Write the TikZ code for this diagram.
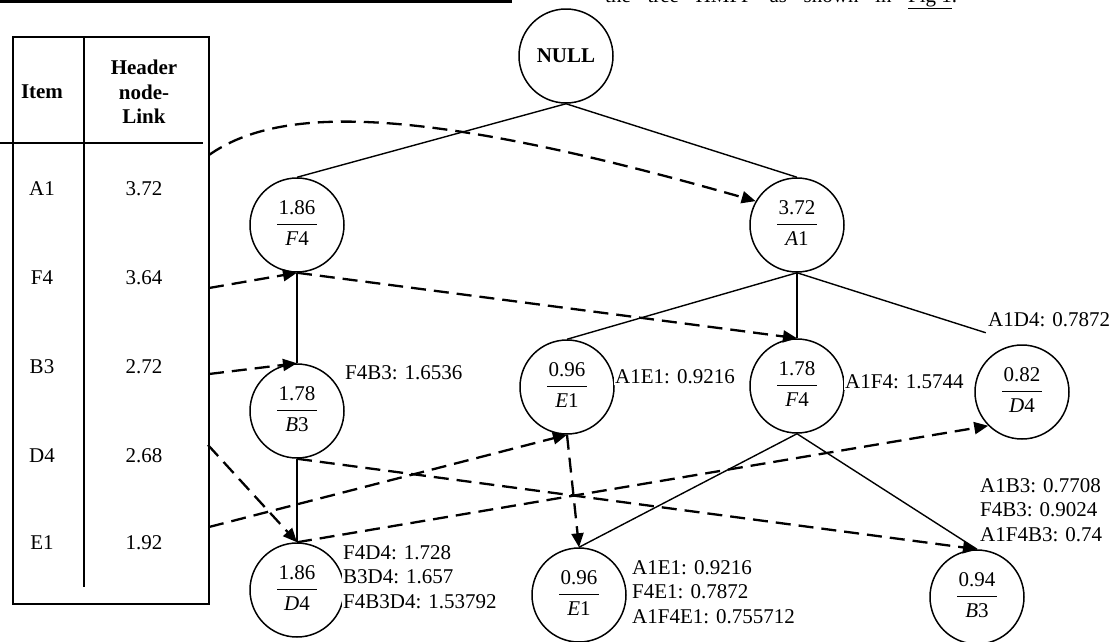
\documentclass[tikz,border=0pt]{standalone}
\usepackage{fontspec}
\setmainfont{Liberation Serif}
\usetikzlibrary{arrows.meta}
\setlength{\arrayrulewidth}{1.4pt}
\newcommand{\nodefrac}[2]{\raisebox{3pt}{\begin{tabular}{@{\hspace{1.5pt}}c@{\hspace{1.5pt}}}\rule{0pt}{16pt}#1\\[2pt]\hline\rule{0pt}{20pt}#2\end{tabular}}}
\begin{document}
\begin{tikzpicture}[x=1pt,y=-1pt,
  every node/.style={font=\fontsize{21}{24.5}\selectfont},
  circ/.style={circle,draw,line width=1.5pt,minimum size=94pt,inner sep=0pt},
  tree/.style={line width=1.4pt},
  link/.style={line width=2.3pt,dash pattern=on 15pt off 8pt,-{Triangle[length=14pt,width=12pt]}},
  lbl/.style={anchor=west,fill=white,inner sep=1pt,align=left},
  cell/.style={inner sep=0pt,align=center}]
\useasboundingbox (0,0) rectangle (1112,641);
% page fragments
\draw[line width=2.6pt] (0,1.2) -- (512,1.2);
\node[anchor=base west,inner sep=0pt] (toptext) at (605,2.5) {\hbox to 352pt{the\hfill tree\hfill HMFP\hfill as\hfill shown\hfill in\hfill\underline{Fig 1}.}};
% header table
\draw[line width=1.8pt] (13,37) rectangle (209,604);
\draw[line width=1.3pt] (84,37) -- (84,587);
\draw[line width=1.3pt] (0,143) -- (203,143);
\node[cell] (hItem) at (42,92) {\textbf{Item}};
\node[cell] (hLink) at (144,92) {\textbf{Header}\\\textbf{node-}\\\textbf{Link}};
\node[cell] (iA1) at (42,189) {A1};  \node[cell] (vA1) at (144,189) {3.72};
\node[cell] (iF4) at (42,278) {F4};  \node[cell] (vF4) at (144,278) {3.64};
\node[cell] (iB3) at (42,367) {B3};  \node[cell] (vB3) at (144,367) {2.72};
\node[cell] (iD4) at (42,456) {D4};  \node[cell] (vD4) at (144,456) {2.68};
\node[cell] (iE1) at (42,543) {E1};  \node[cell] (vE1) at (144,543) {1.92};
\coordinate (tA1) at (209,155);
\coordinate (tF4) at (209,288);
\coordinate (tB3) at (209,374);
\coordinate (tD4) at (208,445);
\coordinate (tE1) at (209,527);
% tree nodes
\node[circ] (NULL) at (566,56) {\textbf{NULL}};
\node[circ] (F4a) at (297,225) {\nodefrac{1.86}{\textit{F}4}};
\node[circ] (A1) at (797,225) {\nodefrac{3.72}{\textit{A}1}};
\node[circ] (B3a) at (297,411) {\nodefrac{1.78}{\textit{B}3}};
\node[circ] (D4a) at (297,590) {\nodefrac{1.86}{\textit{D}4}};
\node[circ] (E1u) at (567,387) {\nodefrac{0.96}{\textit{E}1}};
\node[circ] (F4m) at (797,386) {\nodefrac{1.78}{\textit{F}4}};
\node[circ] (D4r) at (1022,392) {\nodefrac{0.82}{\textit{D}4}};
\node[circ] (E1l) at (579,595) {\nodefrac{0.96}{\textit{E}1}};
\node[circ] (B3r) at (977,597) {\nodefrac{0.94}{\textit{B}3}};
% tree edges
\draw[tree] (NULL.south) -- (F4a.north);
\draw[tree] (NULL.south) -- (A1.north);
\draw[tree] (F4a.south) -- (B3a.north);
\draw[tree] (B3a.south) -- (D4a.north);
\draw[tree] (A1.south) -- (E1u.north);
\draw[tree] (A1.south) -- (F4m.north);
\draw[tree,shorten >=38pt] (A1.south) -- (D4r.north);
\draw[tree] (F4m.south) -- (E1l.north);
\draw[tree] (F4m.south) -- (B3r.north);
% node links
\draw[link] (tA1) .. controls (280,105) and (420,105) .. (A1.150);
\draw[link] (tF4) -- (F4a.south);
\draw[link] (F4a.south) -- (F4m.north);
\draw[link] (tB3) -- (B3a.north);
\draw[link] (B3a.south) -- (B3r.north);
\draw[link] (tD4) -- (D4a.north);
\draw[link] (D4a.north) -- (D4r.225);
\draw[link] (tE1) -- (E1u.south);
\draw[link] (E1u.south) -- (E1l.north);
% labels
\node[lbl] (lF4B3) at (344,373) {F4B3: 1.6536};
\node[lbl] (lA1E1) at (614,377) {A1E1: 0.9216};
\node[lbl] (lA1F4) at (844,382) {A1F4: 1.5744};
\node[lbl] (lA1D4) at (987,320) {A1D4: 0.7872};
\node[lbl] (lB3r) at (979,510) {A1B3: 0.7708\\F4B3: 0.9024\\A1F4B3: 0.74};
\node[lbl] (lE1l) at (631,592) {A1E1: 0.9216\\F4E1: 0.7872\\A1F4E1: 0.755712};
\node[lbl] (lD4a) at (342,577) {F4D4: 1.728\\B3D4: 1.657\\F4B3D4: 1.53792};
\end{tikzpicture}
\end{document}
